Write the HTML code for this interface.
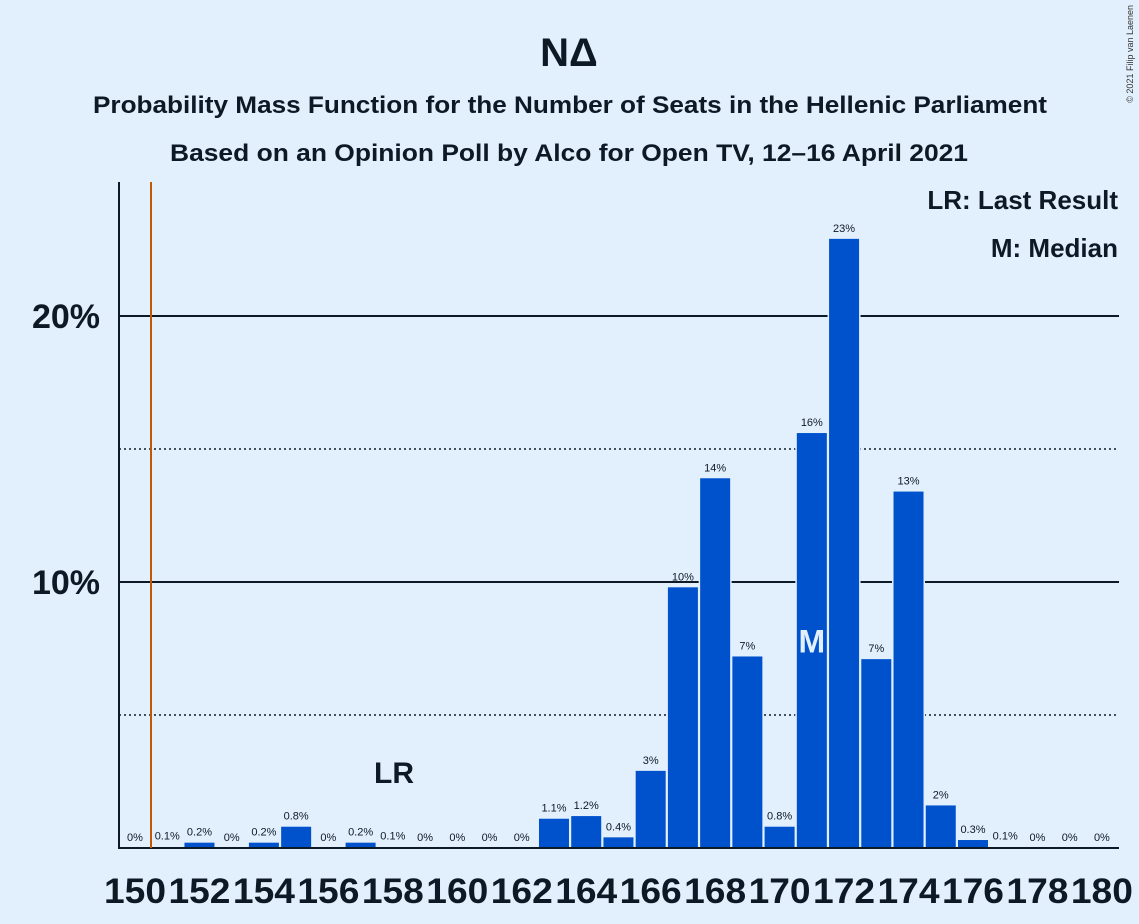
<!DOCTYPE html>
<html><head><meta charset="utf-8"><style>
html,body{margin:0;padding:0;background:#e2effc;}
svg{display:block;font-family:"Liberation Sans",sans-serif;}
</style></head><body>
<svg id="chart" width="1139" height="924" viewBox="0 0 1139 924" xmlns="http://www.w3.org/2000/svg">
<rect width="1139" height="924" fill="#e2effc"/>
<text x="569" y="66" text-anchor="middle" font-size="40" font-weight="bold" fill="#0d1a26">NΔ</text>
<text x="93" y="113" textLength="954" lengthAdjust="spacingAndGlyphs" font-size="24" font-weight="bold" fill="#0d1a26">Probability Mass Function for the Number of Seats in the Hellenic Parliament</text>
<text x="170" y="161" textLength="798" lengthAdjust="spacingAndGlyphs" font-size="24" font-weight="bold" fill="#0d1a26">Based on an Opinion Poll by Alco for Open TV, 12–16 April 2021</text>
<text x="1133" y="5" transform="rotate(-90 1133 5)" text-anchor="end" font-size="9" fill="#333">© 2021 Filip van Laenen</text>
<g id="grid"></g>
<g id="bars"></g>
<g id="labels"></g>
<line x1="119" y1="182" x2="119" y2="848" stroke="#0d1a26" stroke-width="2"/>
<line x1="118" y1="848" x2="1119" y2="848" stroke="#0d1a26" stroke-width="2"/>
<line x1="151" y1="182" x2="151" y2="848" stroke="#c05a00" stroke-width="2"/>
<text x="394" y="783" text-anchor="middle" font-size="30" font-weight="bold" fill="#0d1a26">LR</text>
<text x="1118" y="209" text-anchor="end" font-size="26" font-weight="bold" fill="#0d1a26">LR: Last Result</text>
<text x="1118" y="257" text-anchor="end" font-size="26" font-weight="bold" fill="#0d1a26">M: Median</text>
</svg>
<script>
const seats = [150,151,152,153,154,155,156,157,158,159,160,161,162,163,164,165,166,167,168,169,170,171,172,173,174,175,176,177,178,179,180];
const probs = [0,0.05,0.2,0,0.2,0.8,0,0.2,0.05,0,0,0,0,1.1,1.2,0.4,2.9,9.8,13.9,7.2,0.8,15.6,22.9,7.1,13.4,1.6,0.3,0.05,0,0,0];
const printed = ["0%","0.1%","0.2%","0%","0.2%","0.8%","0%","0.2%","0.1%","0%","0%","0%","0%","1.1%","1.2%","0.4%","3%","10%","14%","7%","0.8%","16%","23%","7%","13%","2%","0.3%","0.1%","0%","0%","0%"];
const yTicks = [10,20];
const yDotted = [5,15];
const xTicks = [150,152,154,156,158,160,162,164,166,168,170,172,174,176,178,180];
const medianSeat = 171;
const NS="http://www.w3.org/2000/svg";
const xS = s => 135 + (s-150)*32.23;
const yS = v => 848 - v*26.6;
const grid=document.getElementById('grid'), bars=document.getElementById('bars'), labels=document.getElementById('labels'), svg=document.getElementById('chart');
function mk(tag,attrs,parent){const e=document.createElementNS(NS,tag);for(const k in attrs)e.setAttribute(k,attrs[k]);parent.appendChild(e);return e;}
yTicks.forEach(v=>{
  const l=mk('line',{x1:119,x2:1119,y1:yS(v),y2:yS(v),stroke:'#0d1a26','stroke-width':2},grid);
  
  
  const t=mk('text',{x:100,y:yS(v)+12,'text-anchor':'end','font-size':34,'font-weight':'bold',fill:'#0d1a26'},svg);
  t.textContent=v+'%';
  
  
});
yDotted.forEach(v=>{
  const l=mk('line',{x1:119,x2:1119,y1:yS(v),y2:yS(v),stroke:'#0d1a26','stroke-width':1.5,'stroke-dasharray':'2,3'},grid);
  
  
});
seats.forEach((s,i)=>{
  const v=probs[i];
  if(v>0.08){
    const r=mk('rect',{x:xS(s)-15,y:yS(v),width:30,height:848-yS(v),fill:'#0052cc',stroke:'#e2effc','stroke-width':3,'paint-order':'stroke'},bars);
    
    
  }
  const t=mk('text',{x:xS(s),y:yS(v)-7,'text-anchor':'middle','font-size':11,fill:'#0d1a26'},labels);
  t.textContent=printed[i];
  
  
});
const mi=seats.indexOf(medianSeat);
const m=mk('text',{x:xS(medianSeat),y:yS(probs[mi]*0.5)+12,'text-anchor':'middle','font-size':32,'font-weight':'bold',fill:'#e2effc'},labels);
m.textContent='M';


xTicks.forEach(s=>{
  const t=mk('text',{x:xS(s)-31,y:903,textLength:62,lengthAdjust:'spacingAndGlyphs','font-size':35,'font-weight':'bold',fill:'#0d1a26'},svg);
  t.textContent=s;
  
  
});
</script>
</body></html>
